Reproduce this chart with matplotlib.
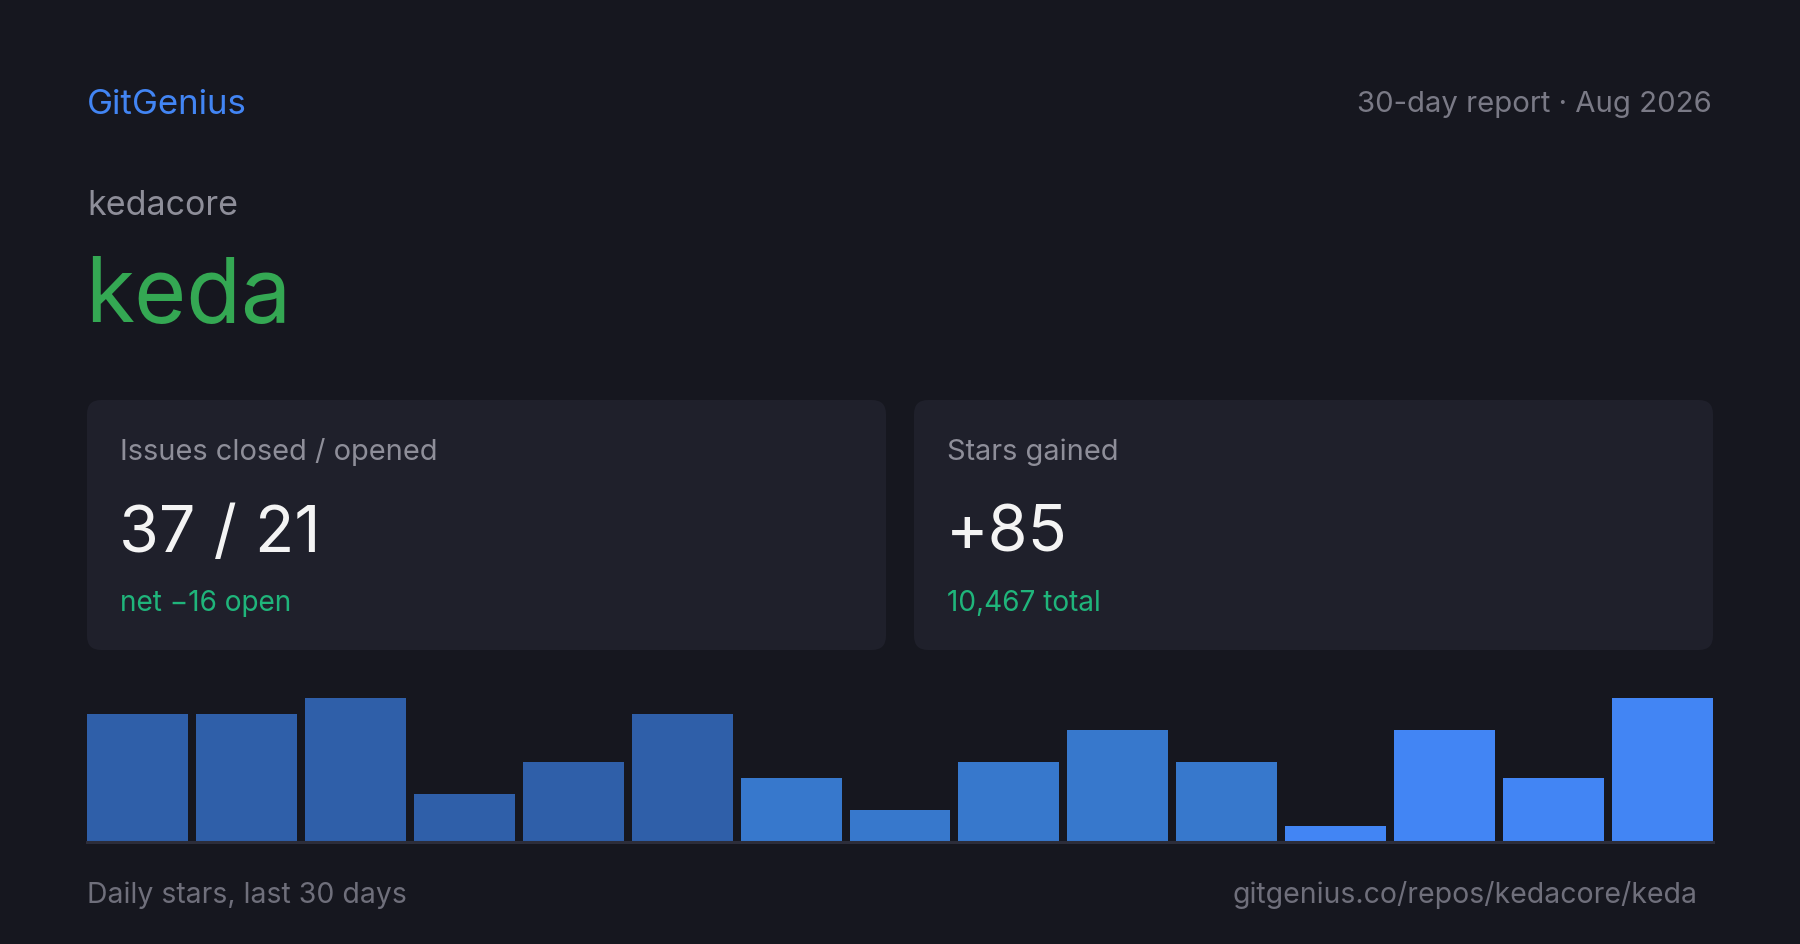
import matplotlib

matplotlib.use("Agg")
import matplotlib.pyplot as plt
from matplotlib.patches import FancyBboxPatch

plt.rcParams["font.family"] = ["Inter", "DejaVu Sans"]

# --- data -----------------------------------------------------------------
brand = "GitGenius"
period = "30-day report \u00b7 Aug 2026"
owner = "kedacore"
repo = "keda"
card_labels = ["Issues closed / opened", "Stars gained"]
card_values = ["37 / 21", "+85"]
card_notes = ["net \u221216 open", "10,467 total"]
daily_stars = [8, 8, 9, 3, 5, 8, 4, 2, 5, 7, 5, 1, 7, 4, 9]
bar_colors = ["#2f5fa9"] * 6 + ["#3778cc"] * 5 + ["#4285f4"] * 4
footer_left = "Daily stars, last 30 days"
footer_right = "gitgenius.co/repos/kedacore/keda"

BG = "#16171f"
CARD = "#1f202b"
W, H = 1800, 945


def pt(px):
    return px * 0.72


fig = plt.figure(figsize=(W / 100, H / 100), dpi=100, facecolor=BG)
ax = fig.add_axes([0, 0, 1, 1])
ax.set_xlim(0, W)
ax.set_ylim(H, 0)
ax.axis("off")

# header
ax.text(87, 114, brand, color="#4285f4", fontsize=pt(34.8), va="baseline")
ax.text(1712, 112, period, color="#7a7a86", fontsize=pt(29.3), va="baseline", ha="right")
ax.text(87, 215, owner, color="#8e8e99", fontsize=pt(34), va="baseline")
ax.text(85, 322, repo, color="#34a853", fontsize=pt(89.5), va="baseline")

# stat cards
for i, (label, value, note) in enumerate(zip(card_labels, card_values, card_notes)):
    x0 = 87 + i * 827
    ax.add_patch(FancyBboxPatch((x0 + 14, 401 + 14), 799 - 28, 250 - 28,
                                boxstyle="round,pad=14", fc=CARD, ec="none"))
    ax.text(x0 + 33, 460, label, color="#8e8e99", fontsize=pt(29), va="baseline")
    ax.text(x0 + 32, 552, value, color="#f4f4f4", fontsize=pt(64.5), va="baseline")
    ax.text(x0 + 33, 611, note, color="#1fb57b", fontsize=pt(28), va="baseline")

# footer
ax.text(87, 903, footer_left, color="#6f6f7b", fontsize=pt(28.4), va="baseline")
ax.text(1698, 903, footer_right, color="#6f6f7b", fontsize=pt(28.4), va="baseline", ha="right")

# daily stars bars
base_px, top_px = 843, 699
bax = fig.add_axes([87 / W, (H - base_px) / H, 1626 / W, (base_px - top_px) / H])
bax.set_facecolor("none")
bw = 0.927
xs = list(range(len(daily_stars)))
bax.bar(xs, daily_stars, width=bw, color=bar_colors)
bax.set_xlim(-bw / 2, xs[-1] + bw / 2)
bax.set_ylim(0, max(daily_stars))
bax.axis("off")
bax.axhline(0, color="#2c2d3a", lw=2.2, clip_on=False)

fig.savefig("out.png", dpi=100, facecolor=BG)
